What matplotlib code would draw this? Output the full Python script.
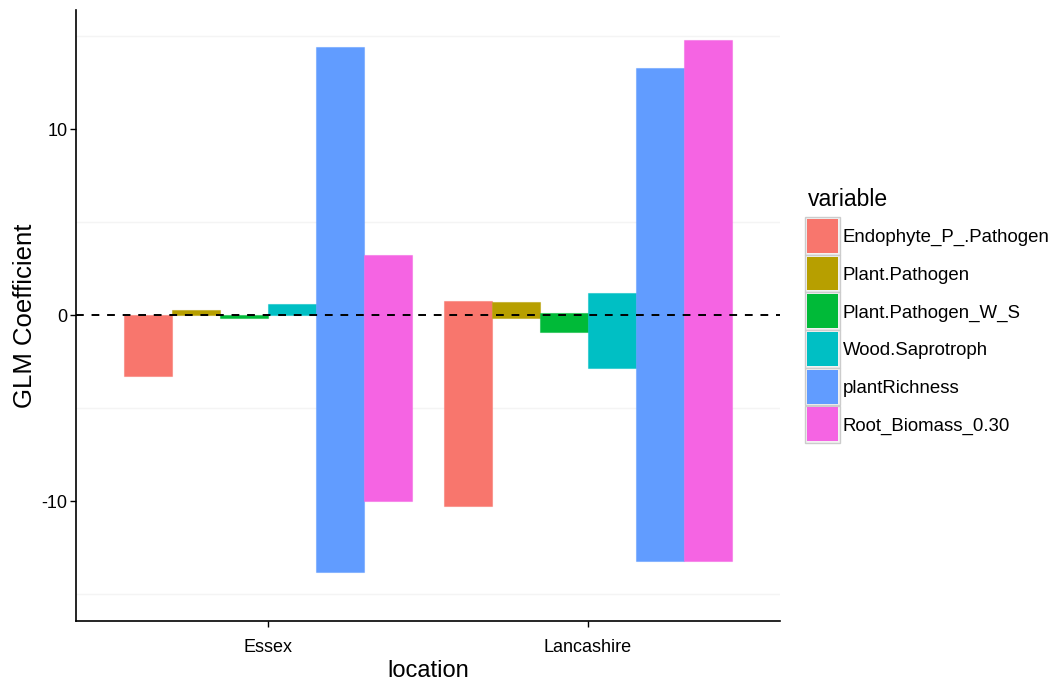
import matplotlib
matplotlib.use("Agg")
import matplotlib.pyplot as plt
from matplotlib.patches import Rectangle
import numpy as np

plt.rcParams['font.family'] = ['Liberation Sans', 'DejaVu Sans']

# Locations and model terms
locations = ["Essex", "Lancashire"]
variables = ["Endophyte_P_.Pathogen", "Plant.Pathogen", "Plant.Pathogen_W_S",
             "Wood.Saprotroph", "plantRichness", "Root_Biomass_0.30"]
colors = ["#F8766D", "#B79F00", "#00BA38", "#00BFC4", "#619CFF", "#F564E3"]

# Coefficient interval per variable: [Essex, Lancashire]
lower = {
    "Endophyte_P_.Pathogen": [-3.28, -10.27],
    "Plant.Pathogen":        [-0.02, -0.15],
    "Plant.Pathogen_W_S":    [-0.15, -0.90],
    "Wood.Saprotroph":       [-0.02, -2.83],
    "plantRichness":         [-13.84, -13.20],
    "Root_Biomass_0.30":     [-10.02, -13.24],
}
upper = {
    "Endophyte_P_.Pathogen": [0.02, 0.75],
    "Plant.Pathogen":        [0.28, 0.68],
    "Plant.Pathogen_W_S":    [0.02, 0.09],
    "Wood.Saprotroph":       [0.62, 1.20],
    "plantRichness":         [14.39, 13.30],
    "Root_Biomass_0.30":     [3.22, 14.78],
}

W, H = 1060, 687
fig = plt.figure(figsize=(W / 100, H / 100), dpi=100)
left, right, top, bottom = 76, 780, 10, 621
ax = fig.add_axes([left / W, 1 - bottom / H, (right - left) / W, (bottom - top) / H])

n = len(variables)
bw = 0.9 / n
xc = np.arange(len(locations))
for i, (var, col) in enumerate(zip(variables, colors)):
    lo = np.array(lower[var])
    hi = np.array(upper[var])
    xpos = xc - 0.45 + bw * (i + 0.5)
    ax.bar(xpos, hi - lo, bottom=lo, width=bw, color=col,
           edgecolor=matplotlib.colors.to_rgba(col, 0.5), linewidth=0.8, zorder=3)

ax.axhline(0, color="black", linestyle=(0, (4, 4)), linewidth=1.4, zorder=4)

# faint minor grid lines
for yv in [-15, -5, 5, 15]:
    ax.axhline(yv, color="#F4F4F4", linewidth=1.0, zorder=1)

ax.set_xlim(-0.6, 1.6)
ax.set_ylim(-16.45, 16.4)
ax.set_xticks(xc)
ax.set_xticklabels(locations)
ax.set_yticks([-10, 0, 10])
ax.set_yticklabels(["-10", "0", "10"])
ax.tick_params(axis="both", length=4, width=1.0, color="black",
               labelsize=13, labelcolor="black")
ax.tick_params(axis="x", pad=9)
ax.tick_params(axis="y", pad=2)
for s in ["top", "right"]:
    ax.spines[s].set_visible(False)
for s in ["left", "bottom"]:
    ax.spines[s].set_linewidth(1.2)
    ax.spines[s].set_color("black")
ax.set_xlabel("location", fontsize=17, labelpad=3)
ax.set_ylabel("GLM Coefficient", fontsize=18.5, labelpad=3)

# legend
fig.text(808 / W, 1 - 200 / H, "variable", fontsize=16.5, va="center", ha="left")
key_x, key_w, key_top, key_h = 805, 35, 217, 37.7
for i, (var, col) in enumerate(zip(variables, colors)):
    y0 = key_top + i * key_h
    fig.patches.append(Rectangle((key_x / W, 1 - (y0 + key_h) / H), key_w / W, key_h / H,
                                 transform=fig.transFigure, facecolor="#F2F2F2",
                                 edgecolor="#CCCCCC", linewidth=1.0))
    fig.patches.append(Rectangle(((key_x + 2) / W, 1 - (y0 + key_h - 2) / H),
                                 (key_w - 4) / W, (key_h - 4) / H,
                                 transform=fig.transFigure, facecolor=col,
                                 edgecolor="none"))
    fig.text(843 / W, 1 - (y0 + key_h / 2 + 2) / H, var, fontsize=13.4, va="center", ha="left")

fig.savefig("out.png", dpi=100)
